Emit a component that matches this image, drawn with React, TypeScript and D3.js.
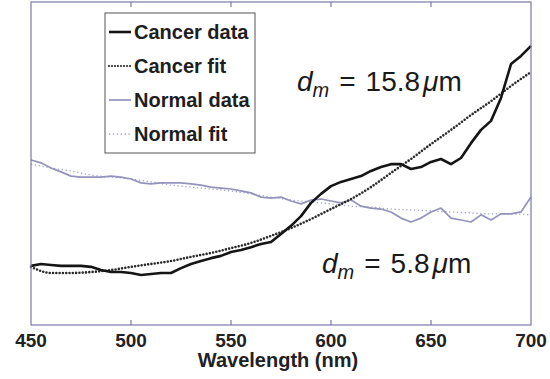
import * as d3 from 'd3';

// wavelength grid (nm)
const wl5 = [
  450, 455, 460, 465, 470, 475, 480, 485, 490, 495, 500, 505, 510, 515, 520, 525, 530, 535, 540, 545,
  550, 555, 560, 565, 570, 575, 580, 585, 590, 595, 600, 605, 610, 615, 620, 625, 630, 635, 640, 645,
  650, 655, 660, 665, 670, 675, 680, 685, 690, 695, 700,
];
const wl10 = [
  450, 460, 470, 480, 490, 500, 510, 520, 530, 540, 550, 560, 570, 580, 590, 600, 610, 620, 630, 640,
  650, 660, 670, 680, 690, 700,
];

// normalised reflectance
const cancerData = [
  0.183, 0.189, 0.186, 0.183, 0.183, 0.183, 0.18, 0.17, 0.164, 0.164, 0.161, 0.155, 0.158, 0.161, 0.161,
  0.176, 0.189, 0.198, 0.207, 0.214, 0.226, 0.232, 0.241, 0.251, 0.257, 0.282, 0.307, 0.337, 0.378, 0.406,
  0.43, 0.443, 0.452, 0.461, 0.477, 0.489, 0.498, 0.498, 0.483, 0.489, 0.505, 0.514, 0.498, 0.517, 0.563,
  0.604, 0.632, 0.703, 0.808, 0.833, 0.864,
];
const cancerFit = [
  0.18, 0.161, 0.161, 0.164, 0.17, 0.18, 0.189, 0.198, 0.211, 0.223, 0.238, 0.254, 0.276, 0.3, 0.328,
  0.359, 0.39, 0.427, 0.471, 0.514, 0.56, 0.604, 0.65, 0.693, 0.74, 0.783,
];
const normalData = [
  0.511, 0.502, 0.486, 0.474, 0.461, 0.458, 0.458, 0.458, 0.461, 0.458, 0.452, 0.44, 0.437, 0.44, 0.44,
  0.44, 0.437, 0.433, 0.427, 0.424, 0.421, 0.415, 0.409, 0.396, 0.393, 0.396, 0.384, 0.375, 0.387, 0.39,
  0.384, 0.378, 0.387, 0.368, 0.362, 0.359, 0.35, 0.331, 0.319, 0.331, 0.35, 0.362, 0.331, 0.325, 0.319,
  0.341, 0.325, 0.344, 0.344, 0.35, 0.396,
];
const normalFit = [
  0.498, 0.486, 0.477, 0.464, 0.458, 0.452, 0.443, 0.433, 0.427, 0.421, 0.415, 0.406, 0.396, 0.387, 0.381,
  0.375, 0.368, 0.365, 0.359, 0.356, 0.353, 0.35, 0.347, 0.344, 0.344, 0.341,
];

const xTicks = [450, 500, 550, 600, 650, 700];
const legendLabels = ['Cancer data', 'Cancer fit', 'Normal data', 'Normal fit'];
const annotations = [
  { value: '15.8', x: 297, y: 91 },
  { value: '5.8', x: 322, y: 273 },
];

const W = 550;
const H = 379;
const margin = { top: 2, right: 19, bottom: 54, left: 31 };
const axisColor = '#7a7aa8';
const cancerColor = '#151515';
const normalColor = '#9393bd';
const font = 'Liberation Sans, Arial, sans-serif';

const styles = [
  { stroke: cancerColor, width: 2.6, dash: undefined, cap: 'butt' },
  { stroke: '#2a2a2a', width: 2.6, dash: '0 3.3', cap: 'round' },
  { stroke: normalColor, width: 1.7, dash: undefined, cap: 'butt' },
  { stroke: '#a2a2cc', width: 1.3, dash: '1.3 2.6', cap: 'butt' },
];

export default function App() {
  const x = d3.scaleLinear().domain([450, 700]).range([margin.left, W - margin.right]);
  const y = d3.scaleLinear().domain([0, 1]).range([H - margin.bottom, margin.top]);
  const line = d3
    .line<[number, number]>()
    .x((d) => x(d[0]))
    .y((d) => y(d[1]));
  const smooth = d3
    .line<[number, number]>()
    .x((d) => x(d[0]))
    .y((d) => y(d[1]))
    .curve(d3.curveMonotoneX);

  const series = [
    line(d3.zip(wl5, cancerData) as [number, number][]),
    smooth(d3.zip(wl10, cancerFit) as [number, number][]),
    line(d3.zip(wl5, normalData) as [number, number][]),
    smooth(d3.zip(wl10, normalFit) as [number, number][]),
  ];

  const x0 = x(450);
  const x1 = x(700);
  const yb = y(0);
  const yt = y(1);

  return (
    <svg
      width={W}
      height={H}
      style={{ position: 'absolute', left: 0, top: 0, background: '#fff' }}
      fontFamily={font}
    >
      {/* series: normal first, cancer on top */}
      {[3, 2, 1, 0].map((i) => (
        <path
          key={i}
          d={series[i] ?? ''}
          fill="none"
          stroke={styles[i].stroke}
          strokeWidth={styles[i].width}
          strokeDasharray={styles[i].dash}
          strokeLinecap={styles[i].cap as any}
          strokeLinejoin="round"
        />
      ))}

      {/* frame */}
      <rect x={x0} y={yt} width={x1 - x0} height={yb - yt} fill="none" stroke={axisColor} strokeWidth={1.2} />
      {xTicks.slice(1, -1).map((t) => (
        <g key={t}>
          <line x1={x(t)} x2={x(t)} y1={yb} y2={yb - 5} stroke={axisColor} strokeWidth={1.2} />
          <line x1={x(t)} x2={x(t)} y1={yt} y2={yt + 5} stroke={axisColor} strokeWidth={1.2} />
        </g>
      ))}
      {xTicks.map((t) => (
        <text
          key={t}
          x={x(t)}
          y={347}
          textAnchor="middle"
          fontSize={19}
          fontWeight="bold"
          fill="#222"
        >
          {t}
        </text>
      ))}
      <text x={278} y={367} textAnchor="middle" fontSize={20} fontWeight="bold" fill="#222">
        Wavelength (nm)
      </text>

      {/* legend */}
      <rect x={105} y={13} width={150} height={140} fill="#fff" stroke="#555" strokeWidth={1} />
      {legendLabels.map((lab, i) => {
        const ly = 32 + i * 34;
        return (
          <g key={lab}>
            <line
              x1={109}
              x2={131}
              y1={ly}
              y2={ly}
              stroke={styles[i].stroke}
              strokeWidth={i === 0 ? 2.6 : i === 1 ? 2.2 : styles[i].width}
              strokeDasharray={i === 1 ? '0 3' : styles[i].dash}
              strokeLinecap={styles[i].cap as any}
            />
            <text x={134} y={ly + 7} fontSize={20} fontWeight="bold" fill="#1e1e1e">
              {lab}
            </text>
          </g>
        );
      })}

      {/* annotations */}
      {annotations.map((a) => (
        <text key={a.value} x={a.x} y={a.y} fontSize={28} fill="#1a1a1a">
          <tspan fontStyle="italic">d</tspan>
          <tspan fontStyle="italic" fontSize={20} dy={6}>m</tspan>
          <tspan dy={-6} dx={10}>=</tspan>
          <tspan dx={10}>{a.value}</tspan>
          <tspan fontStyle="italic" dx={3}>μ</tspan>
          <tspan>m</tspan>
        </text>
      ))}
    </svg>
  );
}
